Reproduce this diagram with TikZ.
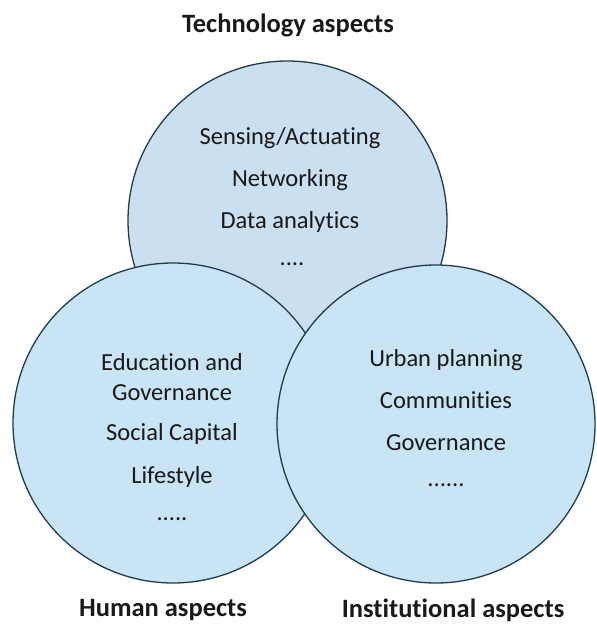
\documentclass[tikz,border=0pt]{standalone}
\usepackage{fontspec}
\setmainfont{Carlito}[Ligatures=NoCommon]
\definecolor{topfill}{RGB}{202,223,240}
\definecolor{lowfill}{RGB}{201,228,245}
\definecolor{edge}{RGB}{30,60,75}
\definecolor{ink}{RGB}{25,25,25}
\begin{document}
\begin{tikzpicture}[x=1pt,y=-1pt,
  ring/.style={circle, draw=edge, line width=1.3pt, inner sep=0pt},
  item/.style={font=\fontsize{24.5}{29}\selectfont, text=ink, inner sep=0pt, anchor=center},
  head/.style={font=\fontsize{26.5}{31}\selectfont\bfseries, text=ink, inner sep=0pt, anchor=center}]
\useasboundingbox (0,0) rectangle (597,624);
% circles
\node[ring, fill=topfill, minimum size=319pt] (tech) at (287.5,220.5) {};
\node[ring, fill=lowfill, minimum size=320pt] (human) at (173,423) {};
\node[ring, fill=lowfill, minimum size=318pt] (inst) at (436,424) {};
% titles
\node[head] (ttech) at (288,25) {Technology aspects};
\node[head] (thuman) at (163,610) {Human aspects};
\node[head] (tinst) at (453,610) {Institutional aspects};
% technology items
\node[item] (t1) at (290,138) {Sensing/Actuating};
\node[item] (t2) at (290,180) {Networking};
\node[item] (t3) at (290,222) {Data analytics};
\node[item] (t4) at (292,264) {....};
% human items
\node[item] (h1) at (172,362) {Education and};
\node[item] (h2) at (172,393) {Governance};
\node[item] (h3) at (172,434) {Social Capital};
\node[item] (h4) at (172,477) {Lifestyle};
\node[item] (h5) at (172,519) {.....};
% institutional items
\node[item] (i1) at (446,360) {Urban planning};
\node[item] (i2) at (446,400) {Communities};
\node[item] (i3) at (446,443) {Governance};
\node[item] (i4) at (446,485) {......};
\end{tikzpicture}
\end{document}
